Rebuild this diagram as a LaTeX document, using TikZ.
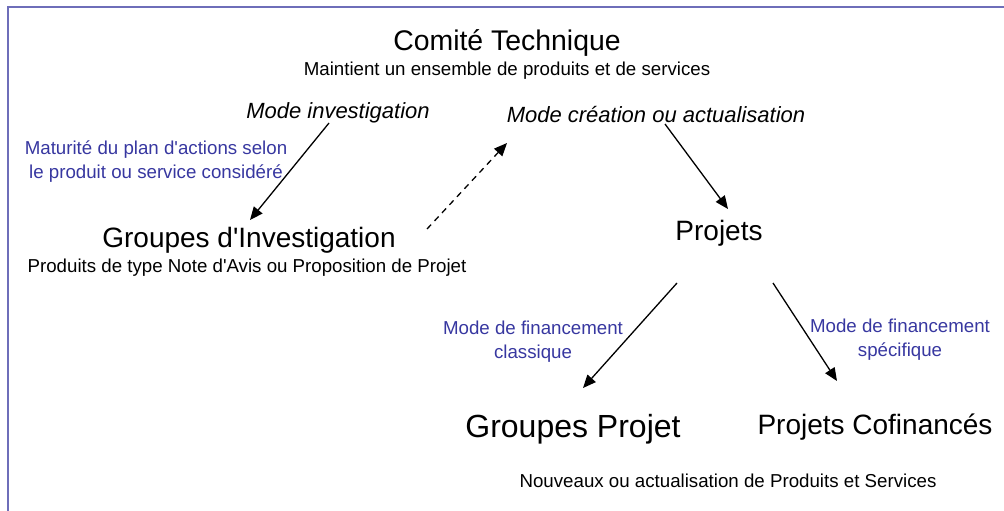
\documentclass[tikz,border=0pt]{standalone}
\usepackage{fontspec}
\setmainfont{Liberation Sans}
\usetikzlibrary{arrows.meta}
\definecolor{lblue}{RGB}{55,55,160}
\definecolor{framec}{RGB}{110,110,185}
\newcommand{\apos}{\textquotesingle}
\begin{document}
\begin{tikzpicture}[x=1pt,y=-1pt,
  big/.style={anchor=base,inner sep=0pt,font=\fontsize{28}{33}\selectfont},
  small/.style={anchor=base,inner sep=0pt,font=\fontsize{18.7}{22}\selectfont},
  modetxt/.style={anchor=base,inner sep=0pt,font=\fontsize{22}{26}\selectfont\itshape},
  bluetxt/.style={anchor=base,inner sep=0pt,align=center,text=lblue,font=\fontsize{18.7}{23.5}\selectfont},
  arr/.style={line width=1.3pt,-{Triangle[length=13pt,width=11pt]}},
  darr/.style={arr,dash pattern=on 6pt off 5pt}]
\useasboundingbox (0,0) rectangle (1004,511);
\draw[framec,line width=1.6pt] (8,511) -- (8,7) -- (1004,7);
% texts
\node[big,font=\fontsize{28.4}{33}\selectfont] (ct) at (507,51) {Comité Technique};
\node[small] (ctsub) at (507,75) {Maintient un ensemble de produits et de services};
\node[modetxt] (mi) at (338,118) {Mode investigation};
\node[modetxt] (mc) at (656,122) {Mode création ou actualisation};
\node[bluetxt] (mat) at (156,178) {Maturité du plan d\apos actions selon\\le produit ou service considéré};
\node[big] (gi) at (249,247) {Groupes d\apos Investigation};
\node[small] (gisub) at (247,272) {Produits de type Note d\apos Avis ou Proposition de Projet};
\node[big] (pj) at (719,240) {Projets};
\node[bluetxt] (fc) at (533,358) {Mode de financement\\classique};
\node[bluetxt] (fs) at (900,356) {Mode de financement\\spécifique};
\node[big,font=\fontsize{32}{36}\selectfont] (gp) at (573,437) {Groupes Projet};
\node[big] (pc) at (875,434) {Projets Cofinancés};
\node[small] (np) at (728,487) {Nouveaux ou actualisation de Produits et Services};
% connector ends
\coordinate (mi-s) at (329,123);
\coordinate (gi-t) at (250,220);
\coordinate (gi-s) at (427,229);
\coordinate (mc-t) at (507,143);
\coordinate (mc-s) at (665,124);
\coordinate (pj-t) at (728,209);
\coordinate (pj-l) at (677,283);
\coordinate (gp-t) at (583,388);
\coordinate (pj-r) at (773,283);
\coordinate (pc-t) at (837,381);
\draw[arr] (mi-s) -- (gi-t);
\draw[darr] (gi-s) -- (mc-t);
\draw[arr] (mc-s) -- (pj-t);
\draw[arr] (pj-l) -- (gp-t);
\draw[arr] (pj-r) -- (pc-t);
\end{tikzpicture}
\end{document}
